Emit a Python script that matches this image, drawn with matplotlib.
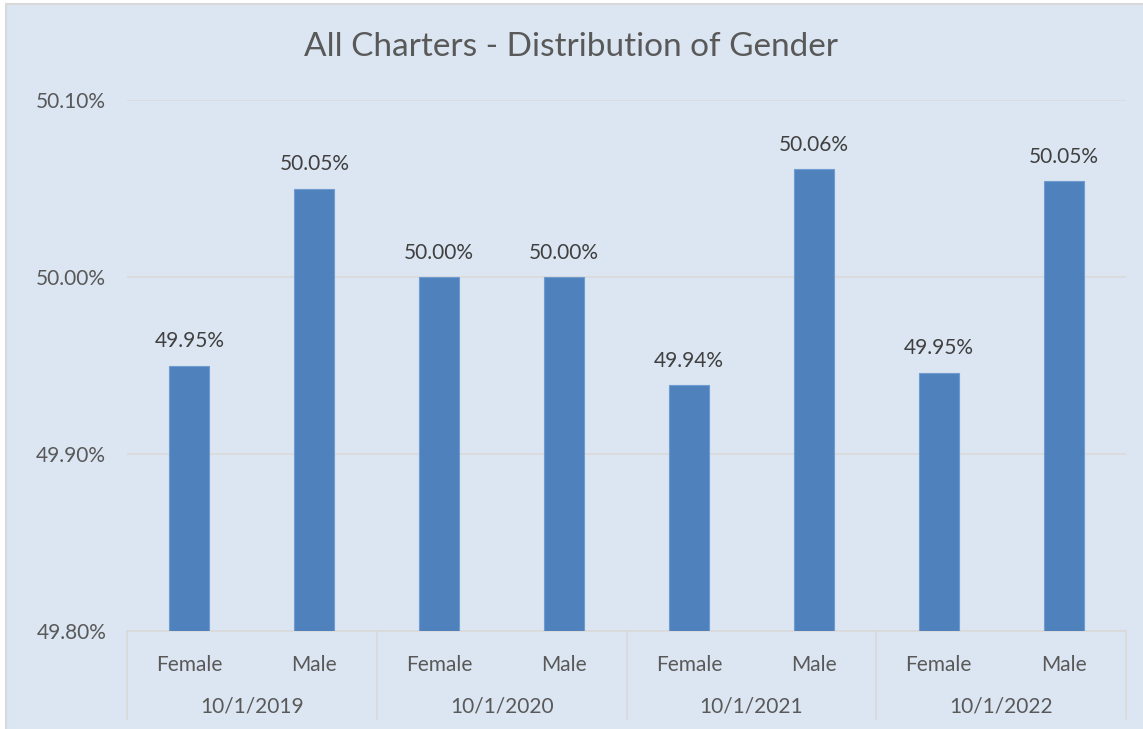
import matplotlib
import matplotlib.pyplot as plt
from matplotlib.patches import Rectangle
from matplotlib.transforms import blended_transform_factory
import numpy as np

matplotlib.use("Agg")

dates = ["10/1/2019", "10/1/2020", "10/1/2021", "10/1/2022"]
genders = ["Female", "Male"]
values = [49.950, 50.050, 50.000, 50.000, 49.939, 50.061, 49.946, 50.054]
labels = ["49.95%", "50.05%", "50.00%", "50.00%", "49.94%", "50.06%", "49.95%", "50.05%"]
yticks = [49.80, 49.90, 50.00, 50.10]

BG = "#dce6f2"
TEXT = "#595959"
GRID = "#d9d9d9"
BAR = "#4f81bd"

plt.rcParams["font.family"] = ["Lato", "DejaVu Sans"]

fig = plt.figure(figsize=(11.43, 7.29), dpi=100, facecolor="white")
fig.patches.append(Rectangle((6 / 1143, -0.01), 1.1, 1 - 4 / 729 + 0.01,
                             transform=fig.transFigure, facecolor=BG,
                             edgecolor=GRID, linewidth=1.5, zorder=-10))

ax = fig.add_axes([127 / 1143, 98 / 729, 999 / 1143, 531 / 729])
ax.set_facecolor("none")

x = np.arange(len(values))
ax.bar(x, values, width=0.32, color=BAR, edgecolor="#6f9bd0", linewidth=0.8,
       zorder=3)
ax.set_ylim(yticks[0], yticks[-1])
ax.set_xlim(-0.5, len(values) - 0.5)

for xi, v, lab in zip(x, values, labels):
    ax.text(xi, v + 0.008, lab, ha="center", va="bottom", fontsize=15,
            color="#404040", zorder=4)

ax.set_yticks(yticks)
ax.set_yticklabels([f"{t:.2f}%" for t in yticks], fontsize=15, color=TEXT)
ax.yaxis.grid(True, color=GRID, linewidth=1.2, zorder=0)
ax.tick_params(axis="y", length=0, pad=15)
ax.tick_params(axis="x", length=0, pad=17)
ax.set_xticks(x)
ax.set_xticklabels(genders * len(dates), fontsize=15, color=TEXT)

for s in ["top", "right", "left"]:
    ax.spines[s].set_visible(False)
ax.spines["bottom"].set_color(GRID)
ax.spines["bottom"].set_linewidth(1.2)

trans = blended_transform_factory(ax.transData, ax.transAxes)
for i, d in enumerate(dates):
    ax.text(2 * i + 0.5, -0.143, d, transform=trans, ha="center", va="center",
            fontsize=15, color=TEXT)
for i in range(len(dates) + 1):
    ax.plot([2 * i - 0.5, 2 * i - 0.5], [0, -0.165], transform=trans,
            color=GRID, linewidth=1.2, clip_on=False)

fig.text(0.5, 1 - 47 / 729, "All Charters - Distribution of Gender",
         ha="center", va="center", fontsize=24, color=TEXT)

fig.savefig("out.png", dpi=100, facecolor="white")
